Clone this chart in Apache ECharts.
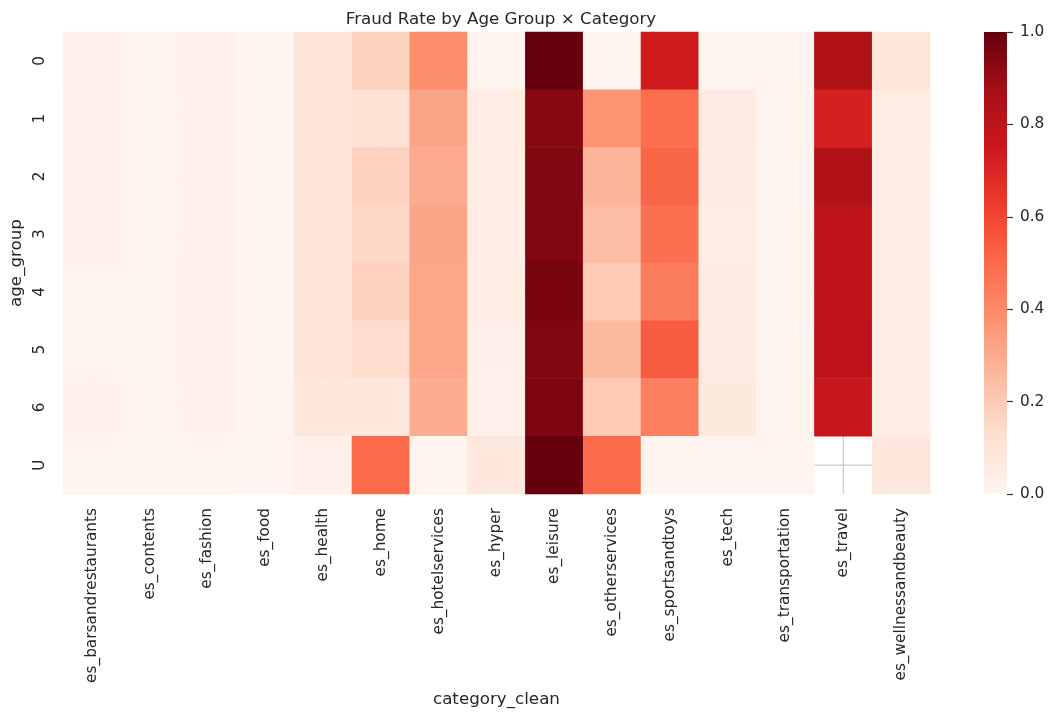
<!DOCTYPE html>
<html>
<head>
<meta charset="utf-8">
<title>Fraud Rate by Age Group × Category</title>
<script src="https://cdn.jsdelivr.net/npm/echarts@6/dist/echarts.min.js"></script>
<style>
  html, body { margin: 0; padding: 0; background: #fff; }
  #main { width: 1054px; height: 716px; }
</style>
</head>
<body>
<div id="main"></div>
<script>
// categories (x) and age groups (y)
var categories = ['es_barsandrestaurants', 'es_contents', 'es_fashion', 'es_food', 'es_health',
  'es_home', 'es_hotelservices', 'es_hyper', 'es_leisure', 'es_otherservices',
  'es_sportsandtoys', 'es_tech', 'es_transportation', 'es_travel', 'es_wellnessandbeauty'];
var ageGroups = ['0', '1', '2', '3', '4', '5', '6', 'U'];

// fraud rate per age group, one value per category (null = no data)
var rate0 = [0.03, 0.01, 0.03, 0.005, 0.10, 0.17, 0.39, 0.01, 1.00, 0.00, 0.74, 0.01, 0.005, 0.835, 0.09];
var rate1 = [0.02, 0.01, 0.015, 0.008, 0.10, 0.12, 0.32, 0.055, 0.935, 0.37, 0.485, 0.065, 0.005, 0.72, 0.055];
var rate2 = [0.02, 0.01, 0.02, 0.005, 0.10, 0.17, 0.30, 0.055, 0.95, 0.265, 0.51, 0.06, 0.005, 0.835, 0.05];
var rate3 = [0.015, 0.01, 0.015, 0.005, 0.10, 0.15, 0.32, 0.045, 0.95, 0.24, 0.48, 0.05, 0.005, 0.79, 0.045];
var rate4 = [0.012, 0.01, 0.025, 0.005, 0.10, 0.17, 0.31, 0.05, 0.966, 0.20, 0.44, 0.06, 0.005, 0.79, 0.05];
var rate5 = [0.012, 0.01, 0.03, 0.005, 0.10, 0.135, 0.31, 0.035, 0.95, 0.255, 0.54, 0.06, 0.005, 0.80, 0.045];
var rate6 = [0.015, 0.01, 0.015, 0.005, 0.075, 0.08, 0.295, 0.03, 0.955, 0.20, 0.43, 0.07, 0.005, 0.76, 0.04];
var rateU = [0.01, 0.01, 0.01, 0.005, 0.03, 0.50, 0.01, 0.08, 1.00, 0.50, 0.005, 0.005, 0.005, null, 0.08];
var rates = [rate0, rate1, rate2, rate3, rate4, rate5, rate6, rateU];

// colour bar ticks
var cbarMin = 0, cbarMax = 1, cbarStep = 0.2;

// matplotlib "Reds"
var reds = ['#fff5f0', '#fee0d2', '#fcbba1', '#fc9272', '#fb6a4a', '#ef3b2c', '#cb181d', '#a50f15', '#67000d'];

var heatData = [];
rates.forEach(function (row, j) {
  row.forEach(function (v, i) {
    if (v !== null) heatData.push([i, j, v]);
  });
});

// background grid lines (only visible where a cell is missing)
var gridLineData = [];
categories.forEach(function (c, i) { gridLineData.push([i, 0, 0]); });
ageGroups.forEach(function (a, j) { gridLineData.push([0, j, 1]); });

var textColor = '#262626';
var font = 'DejaVu Sans';
var tickSize = 15.3, labelSize = 16.7;

var myChart = echarts.init(document.getElementById('main'));

var option = {
  backgroundColor: '#ffffff',
  animation: false,
  textStyle: { fontFamily: font },
  title: {
    text: 'Fraud Rate by Age Group × Category',
    left: 496,
    top: 6,
    textAlign: 'center',
    textStyle: { fontFamily: font, fontSize: labelSize, fontWeight: 'normal', color: textColor }
  },
  grid: [
    { left: 62, top: 32, width: 868, height: 462 },
    { left: 984, top: 32, width: 23, height: 462 }
  ],
  xAxis: [{
    gridIndex: 0,
    type: 'category',
    data: categories,
    boundaryGap: true,
    axisLine: { show: false },
    axisTick: { show: false },
    splitLine: { show: false },
    axisLabel: { rotate: 90, margin: 14, fontSize: tickSize, color: textColor, fontFamily: font, interval: 0 },
    name: 'category_clean',
    nameLocation: 'middle',
    nameGap: 192,
    nameTextStyle: { fontSize: labelSize, color: textColor, fontFamily: font }
  }, {
    gridIndex: 1,
    type: 'value',
    min: 0,
    max: 1,
    show: false
  }],
  yAxis: [{
    gridIndex: 0,
    type: 'category',
    data: ageGroups,
    inverse: true,
    axisLine: { show: false },
    axisTick: { show: false },
    splitLine: { show: false },
    axisLabel: { rotate: 90, margin: 15, fontSize: tickSize, color: textColor, fontFamily: font },
    name: 'age_group',
    nameLocation: 'middle',
    nameGap: 34,
    nameRotate: 90,
    nameTextStyle: { fontSize: labelSize, color: textColor, fontFamily: font }
  }, {
    gridIndex: 1,
    type: 'value',
    position: 'right',
    min: cbarMin,
    max: cbarMax,
    interval: cbarStep,
    axisLine: { show: false, onZero: false },
    axisTick: { show: true, inside: false, length: 6, lineStyle: { color: '#333333', width: 1.2 } },
    splitLine: { show: false },
    axisLabel: {
      margin: 13, fontSize: tickSize, color: textColor, fontFamily: font,
      formatter: function (v) { return v.toFixed(1); }
    }
  }],
  visualMap: {
    type: 'continuous',
    show: false,
    seriesIndex: 1,
    dimension: 2,
    min: cbarMin,
    max: cbarMax,
    inRange: { color: reds }
  },
  series: [{
    name: 'grid',
    type: 'custom',
    xAxisIndex: 0,
    yAxisIndex: 0,
    z: 1,
    silent: true,
    data: gridLineData,
    renderItem: function (params, api) {
      var cs = params.coordSys;
      var p = api.coord([api.value(0), api.value(1)]);
      var shape = api.value(2) === 0
        ? { x1: p[0], y1: cs.y, x2: p[0], y2: cs.y + cs.height }
        : { x1: cs.x, y1: p[1], x2: cs.x + cs.width, y2: p[1] };
      return { type: 'line', shape: shape, style: { stroke: '#cccccc', lineWidth: 1.2 } };
    }
  }, {
    name: 'Fraud rate',
    type: 'heatmap',
    xAxisIndex: 0,
    yAxisIndex: 0,
    z: 2,
    data: heatData,
    itemStyle: { borderWidth: 0 },
    emphasis: { disabled: true }
  }, {
    // colour bar: one gradient rect spanning cbarMin..cbarMax on its own axis
    name: 'colorbar',
    type: 'custom',
    xAxisIndex: 1,
    yAxisIndex: 1,
    silent: true,
    data: [[0, cbarMin, cbarMax]],
    renderItem: function (params, api) {
      var lo = api.coord([0, api.value(1)]);
      var hi = api.coord([1, api.value(2)]);
      var stops = reds.map(function (c, k) {
        return { offset: k / (reds.length - 1), color: c };
      });
      return {
        type: 'rect',
        shape: { x: lo[0], y: hi[1], width: hi[0] - lo[0], height: lo[1] - hi[1] },
        style: { fill: new echarts.graphic.LinearGradient(0, 1, 0, 0, stops) }
      };
    }
  }]
};

myChart.setOption(option);
</script>
</body>
</html>
